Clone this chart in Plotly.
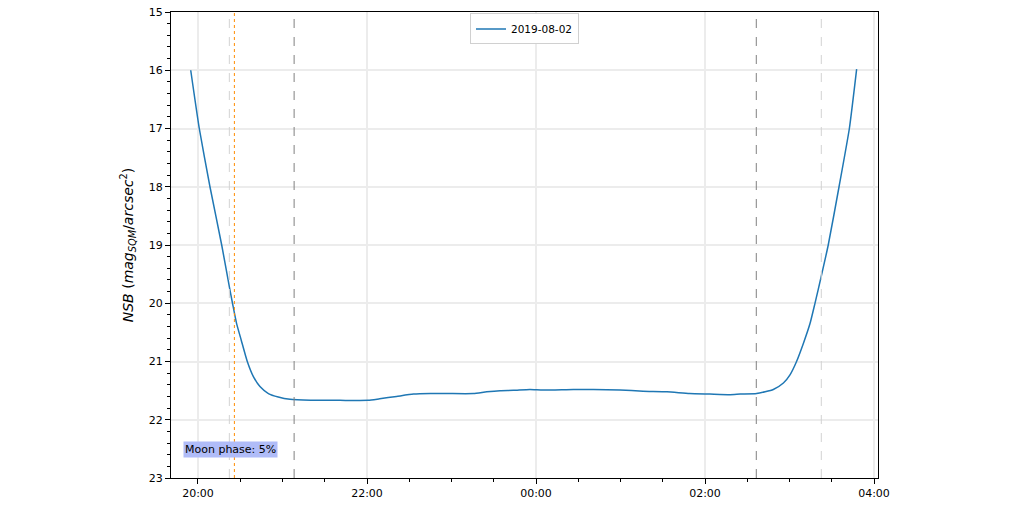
import plotly.graph_objects as go

# ---- data ----
times = [
    "2019-08-02 19:54:50", "2019-08-02 20:00:55", "2019-08-02 20:08:30", "2019-08-02 20:16:50",
    "2019-08-02 20:22:40", "2019-08-02 20:24:30", "2019-08-02 20:27:20", "2019-08-02 20:30:40",
    "2019-08-02 20:35:00", "2019-08-02 20:39:20", "2019-08-02 20:44:00", "2019-08-02 20:50:00",
    "2019-08-02 20:57:00", "2019-08-02 21:05:20", "2019-08-02 21:20:00", "2019-08-02 21:40:50",
    "2019-08-02 22:00:50", "2019-08-02 22:09:00", "2019-08-02 22:21:00", "2019-08-02 22:33:00",
    "2019-08-02 22:45:00", "2019-08-02 22:57:00", "2019-08-02 23:15:30", "2019-08-02 23:25:00",
    "2019-08-02 23:34:30", "2019-08-02 23:44:00", "2019-08-02 23:55:40", "2019-08-03 00:05:00",
    "2019-08-03 00:26:30", "2019-08-03 00:40:40", "2019-08-03 00:59:40", "2019-08-03 01:16:00",
    "2019-08-03 01:33:00", "2019-08-03 01:49:00", "2019-08-03 02:03:30", "2019-08-03 02:17:50",
    "2019-08-03 02:25:00", "2019-08-03 02:36:40", "2019-08-03 02:48:30", "2019-08-03 02:55:40",
    "2019-08-03 03:00:20", "2019-08-03 03:05:00", "2019-08-03 03:09:50", "2019-08-03 03:14:40",
    "2019-08-03 03:18:00", "2019-08-03 03:20:20", "2019-08-03 03:27:30", "2019-08-03 03:35:10",
    "2019-08-03 03:42:30", "2019-08-03 03:47:40",
]
nsb = [
    16.00, 17.00, 18.00, 19.00,
    19.77, 20.00, 20.34, 20.63,
    21.00, 21.26, 21.43, 21.55,
    21.61, 21.65, 21.665, 21.667,
    21.667, 21.64, 21.60, 21.56,
    21.55, 21.55, 21.55, 21.52,
    21.50, 21.495, 21.48, 21.49,
    21.48, 21.48, 21.49, 21.51,
    21.52, 21.55, 21.56, 21.57,
    21.56, 21.55, 21.48, 21.37,
    21.23, 21.00, 20.69, 20.34,
    20.01, 19.77, 19.00, 18.00,
    17.00, 15.98,
]
series_name = "2019-08-02"
moon_text = "Moon phase: 5%"

# vertical event lines
vline_times = ["2019-08-02 20:22:15", "2019-08-02 20:25:50", "2019-08-02 21:08:15",
               "2019-08-03 02:36:25", "2019-08-03 03:22:35"]
vline_colors = ["#d3d3d3", "#ff8c00", "#808080", "#808080", "#d3d3d3"]
vline_dashes = ["dash", "dot", "dash", "dash", "dash"]

x_range = ["2019-08-02 19:40:50", "2019-08-03 04:02:50"]
y_range = [23, 15]

fig = go.Figure()
fig.add_trace(go.Scatter(
    x=times, y=nsb, mode="lines", name=series_name,
    line=dict(color="#1f77b4", width=1.5, shape="spline", smoothing=0.5),
    showlegend=True,
))

for t, c, d in zip(vline_times, vline_colors, vline_dashes):
    fig.add_shape(type="line", xref="x", yref="paper", x0=t, x1=t, y0=0, y1=1,
                  line=dict(color=c, width=1, dash=d), layer="above")

fig.add_annotation(
    xref="paper", yref="paper", x=0.017, y=0.043, xanchor="left", yanchor="bottom",
    text=moon_text, showarrow=False, font=dict(size=11, color="black"),
    bgcolor="#b0bcf8", borderpad=1,
)

font_family = "DejaVu Sans"
fig.update_layout(
    template="none",
    width=1010, height=505,
    margin=dict(l=171, r=132, t=12, b=27, autoexpand=False),
    paper_bgcolor="white", plot_bgcolor="white",
    font=dict(family=font_family, size=11, color="black"),
    showlegend=True,
    legend=dict(x=0.5, y=0.997, xanchor="center", yanchor="top",
                bgcolor="white", bordercolor="#d0d0d0", borderwidth=1,
                font=dict(size=10.5), itemwidth=30),
    xaxis=dict(
        type="date", range=x_range, tickformat="%H:%M",
        tick0="2019-08-02 20:00:00", dtick=2 * 3600 * 1000,
        automargin=False,
        showline=True, linecolor="black", linewidth=1, mirror=True,
        ticks="outside", ticklen=5, tickcolor="black",
        showgrid=True, gridcolor="#ececec", gridwidth=1.5,
        zeroline=False,
        minor=dict(dtick=30 * 60 * 1000, tick0="2019-08-02 20:00:00",
                   ticks="outside", ticklen=3, tickcolor="black", showgrid=False),
    ),
    yaxis=dict(
        range=y_range, tick0=15, dtick=1,
        automargin=False,
        showline=True, linecolor="black", linewidth=1, mirror=True,
        ticks="outside", ticklen=5, tickcolor="black",
        showgrid=True, gridcolor="#ececec", gridwidth=1.5,
        zeroline=False,
        minor=dict(dtick=0.2, tick0=15, ticks="outside", ticklen=3,
                   tickcolor="black", showgrid=False),
        title=dict(
            text="<i>NSB</i> (<i>mag</i><sub><i>SQM</i></sub>/<i>arcsec</i><sup>2</sup>)",
            font=dict(size=14),
        ),
    ),
)

fig.write_html("out.html")
